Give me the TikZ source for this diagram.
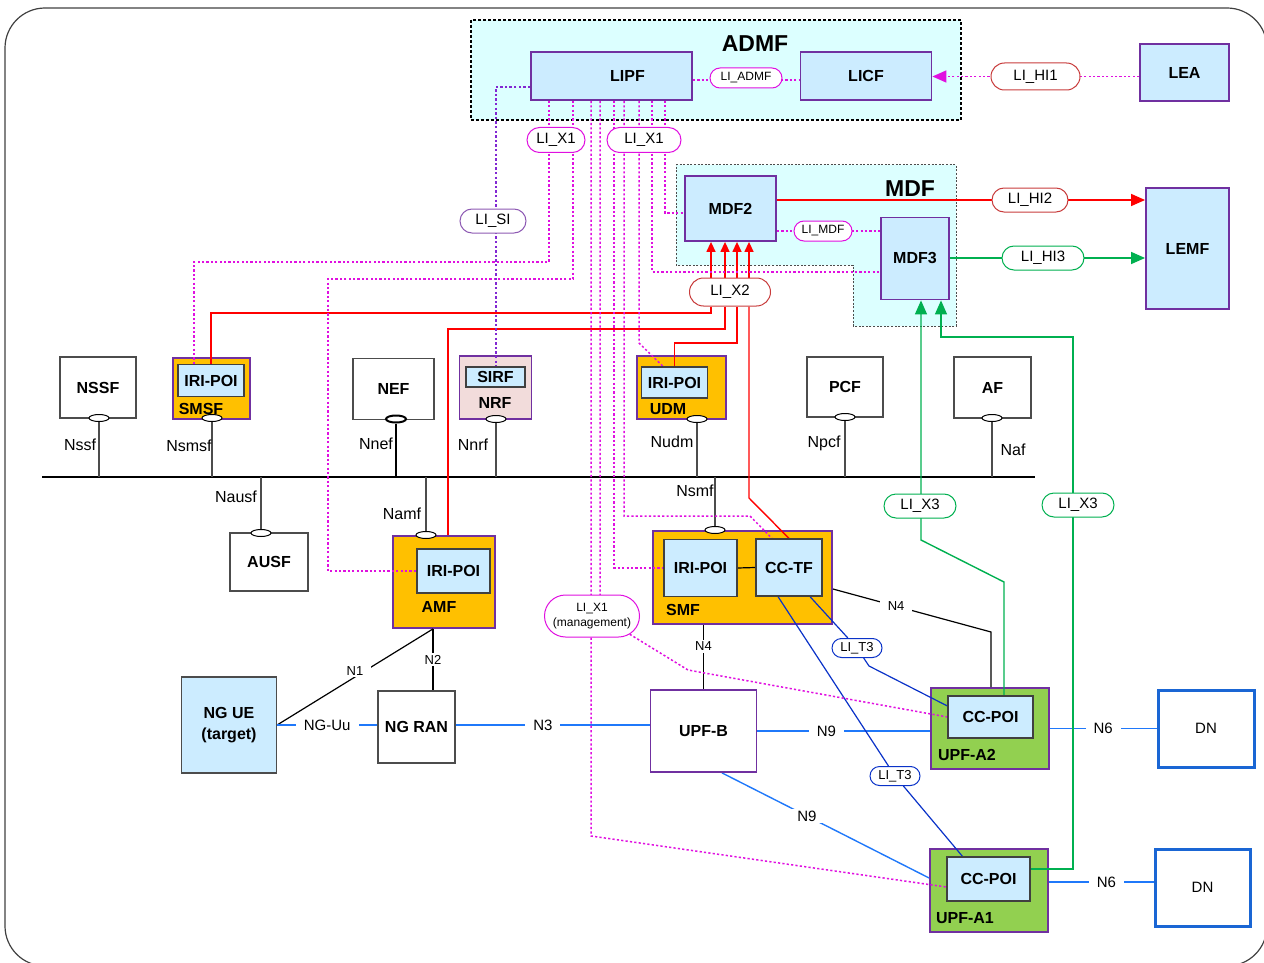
\documentclass[tikz,border=0pt]{standalone}
\usepackage{fontspec}
\setmainfont{Liberation Sans}
\usetikzlibrary{arrows.meta,shapes.geometric,shapes.misc}
\definecolor{licyan}{RGB}{220,255,255}
\definecolor{liblue}{RGB}{204,236,255}
\definecolor{lipurple}{RGB}{112,48,160}
\definecolor{lisipurple}{RGB}{130,40,210}
\definecolor{liorange}{RGB}{255,192,0}
\definecolor{ligreen}{RGB}{146,208,80}
\definecolor{lipink}{RGB}{242,220,219}
\definecolor{limag}{RGB}{224,16,224}
\definecolor{lired}{RGB}{255,0,0}
\definecolor{liovred}{RGB}{200,60,60}
\definecolor{lixgreen}{RGB}{0,176,80}
\definecolor{nblue}{RGB}{31,120,250}
\definecolor{tblue}{RGB}{10,50,200}
\pgfdeclarelayer{bg}
\pgfdeclarelayer{hosts}
\pgfdeclarelayer{wires}
\pgfsetlayers{bg,hosts,wires,main}
\tikzset{
  wh/.style 2 args={minimum width=#1*0.5pt,minimum height=#2*0.5pt},
  big/.style={inner sep=0pt,font=\bfseries\fontsize{11.5}{13}\selectfont},
  lbl/.style={inner sep=0pt,font=\bfseries\fontsize{8}{10.5}\selectfont},
  tag/.style={inner sep=1pt,font=\fontsize{8}{9.5}\selectfont},
  tinyfont/.style={font=\fontsize{6}{7.5}\selectfont},
  smallfont/.style={font=\fontsize{6.5}{8}\selectfont},
  nf/.style={draw=black!70,fill=white,line width=0.6pt,inner sep=0pt,align=center,font=\bfseries\fontsize{8}{10.5}\selectfont},
  lif/.style={draw=lipurple,fill=liblue,line width=0.9pt,inner sep=0pt,font=\bfseries\fontsize{8}{10.5}\selectfont},
  host/.style={draw=lipurple,fill=#1,line width=0.9pt,inner sep=0pt},
  poi/.style={draw=black!75,fill=liblue,line width=0.6pt,inner sep=0pt,font=\bfseries\fontsize{8}{10.5}\selectfont},
  dnbox/.style={draw=nblue!85!black,fill=white,line width=1.5pt,inner sep=0pt,font=\fontsize{7.5}{9}\selectfont},
  iface/.style={rounded rectangle,draw=#1,fill=white,line width=0.5pt,inner sep=0pt,align=center,font=\fontsize{7.5}{9}\selectfont},
  cut/.style={fill=white,text=black,inner xsep=4pt,inner ysep=1pt,font=\fontsize{7.5}{9}\selectfont},
  port/.style={ellipse,draw=black,fill=white,line width=0.5pt,minimum width=10pt,minimum height=3.5pt,inner sep=0pt},
  bus/.style={black,line width=1pt},
  svc/.style={black!70,line width=0.6pt},
  ref/.style={black,line width=0.6pt},
  upl/.style={nblue,line width=0.7pt},
  tthree/.style={tblue,line width=0.6pt},
  xone/.style={limag,line width=0.75pt,dash pattern=on 1.1pt off 1.1pt},
  sidot/.style={lisipurple,line width=1pt,dash pattern=on 1.2pt off 1.1pt},
  xtwo/.style={lired,line width=0.7pt},
  xthree/.style={lixgreen,line width=0.7pt},
  redtip/.style={-{Triangle[length=5pt,width=4.5pt]}},
  hitip/.style={-{Triangle[length=7pt,width=6pt]}},
}
\begin{document}
\begin{tikzpicture}[x=0.5pt,y=-0.5pt]
\useasboundingbox (0,0) rectangle (1264,963);
\draw[black!75,line width=0.6pt,rounded corners=20pt] (5,8) rectangle (1267,966);
\begin{pgfonlayer}{bg}
\draw[draw=black,fill=licyan,line width=0.9pt,dash pattern=on 1.5pt off 1pt] (471,20) rectangle (961,120);
\draw[draw=black!70,fill=licyan,line width=0.5pt,dash pattern=on 1pt off 0.8pt] (676,165) -- (956,165) -- (956,326) -- (853,326) -- (853,265) -- (676,265) -- cycle;
\end{pgfonlayer}
\begin{pgfonlayer}{hosts}
\node[host=liorange, wh={77}{61}] (smsf) at (211.5,388.5) {};
\node[host=lipink, wh={72}{63}] (nrf) at (495.5,387.5) {};
\node[host=liorange, wh={89}{63}] (udm) at (681.5,387.5) {};
\node[host=liorange, wh={102}{92}] (amf) at (444,582) {};
\node[host=liorange, wh={179}{93}] (smf) at (742.5,577.5) {};
\node[host=ligreen, wh={118}{81}] (upfa2) at (990,728.5) {};
\node[host=ligreen, wh={118}{83}] (upfa1) at (989,890.5) {};
\end{pgfonlayer}
% ADMF, MDF and handover side
\node[big] (admft) at (755,44) {ADMF};
\node[lif, wh={161}{48}] (lipf) at (611.5,76) {};
\node[lbl] (lipft) at (627.5,76) {LIPF};
\node[lif, wh={131}{48}] (licf) at (866,76) {LICF};
\node[iface=limag, wh={72}{20}, tinyfont] (liadmf) at (746,78) {LI\_ADMF};
\node[lif, wh={89}{57}] (lea) at (1184.5,72.5) {LEA};
\node[iface=liovred, wh={89}{27}] (lihi1) at (1035.5,76.5) {LI\_HI1};
\node[big] (mdft) at (910,189) {MDF};
\node[lif, wh={91}{65}] (mdf2) at (730.5,208.5) {MDF2};
\node[lif, wh={68}{82}] (mdf3) at (915,258.5) {MDF3};
\node[iface=limag, wh={58}{20}, tinyfont] (limdf) at (823,231) {LI\_MDF};
\node[lif, wh={83}{121}] (lemf) at (1187.5,248.5) {LEMF};
\node[iface=liovred, wh={76}{24}] (lihi2) at (1030,200) {LI\_HI2};
\node[iface=lixgreen, wh={82}{24}] (lihi3) at (1043,258) {LI\_HI3};
\node[iface=limag, wh={58}{25}] (lix1a) at (556,140) {LI\_X1};
\node[iface=limag, wh={74}{25}] (lix1b) at (644,140) {LI\_X1};
\node[iface=lipurple!80, wh={66}{24}] (lisi) at (493,221) {LI\_SI};
\node[iface=liovred, wh={81}{28}] (lix2) at (730,292) {LI\_X2};
\node[iface=lixgreen, wh={72}{24}] (lix3a) at (920,506) {LI\_X3};
\node[iface=lixgreen, wh={72}{24}] (lix3b) at (1078,505) {LI\_X3};
\node[iface=tblue, wh={50}{19}, smallfont] (lit3a) at (857,648) {LI\_T3};
\node[iface=tblue, wh={50}{19}, smallfont] (lit3b) at (895,776) {LI\_T3};
\node[iface=limag, wh={95}{42}, tinyfont] (limgmt) at (592,616) {LI\_X1\\(management)};
% network functions
\node[nf, wh={76}{61}] (nssf) at (98,387.5) {NSSF};
\node[poi, wh={66}{32}] (smsfpoi) at (211,380.5) {IRI-POI};
\node[lbl] (smsft) at (201,408.5) {SMSF};
\node[nf, wh={81}{61}] (nef) at (393.5,389) {NEF};
\node[poi, wh={59}{20}] (sirf) at (495.5,377) {SIRF};
\node[lbl] (nrft) at (495,403) {NRF};
\node[poi, wh={66}{31}] (udmpoi) at (674.5,382.5) {IRI-POI};
\node[lbl] (udmt) at (668,409) {UDM};
\node[nf, wh={76}{60}] (pcf) at (845,387) {PCF};
\node[nf, wh={77}{61}] (af) at (992.5,387.5) {AF};
\node[nf, wh={78}{58}] (ausf) at (269,562) {AUSF};
\node[poi, wh={73}{44}] (amfpoi) at (453.5,571) {IRI-POI};
\node[lbl] (amft) at (439,606.5) {AMF};
\node[poi, wh={73}{57}] (smfpoi) at (700.5,568) {IRI-POI};
\node[poi, wh={66}{57}] (cctf) at (789,567.5) {CC-TF};
\node[lbl] (smft) at (683,610) {SMF};
\node[nf, fill=liblue, wh={95}{96}] (ue) at (229,725) {NG UE\\(target)};
\node[nf, wh={77}{72}] (ran) at (416.5,727) {NG RAN};
\node[nf, draw=lipurple, line width=0.9pt, wh={106}{82}] (upfb) at (703.5,731) {UPF-B};
\node[poi, wh={85}{42}] (ccpoi2) at (990.5,717) {CC-POI};
\node[lbl] (upfa2t) at (967,755) {UPF-A2};
\node[poi, wh={83}{44}] (ccpoi1) at (988.5,879) {CC-POI};
\node[lbl] (upfa1t) at (965,918) {UPF-A1};
\node[dnbox, wh={96}{77}] (dn1) at (1206,728.5) {DN};
\node[dnbox, wh={95}{77}] (dn2) at (1202.5,887.5) {DN};
% service interfaces
\node[port] (nssfp) at (99,418) {};
\node[port] (smsfp) at (212,418) {};
\node[port, line width=1pt] (nefp) at (396,419) {};
\node[port] (nrfp) at (496,419) {};
\node[port] (udmp) at (697,419) {};
\node[port] (pcfp) at (845,417) {};
\node[port] (afp) at (992,418) {};
\node[port] (ausfp) at (261,533) {};
\node[port] (amfp) at (426,535) {};
\node[port] (smfp) at (715,530) {};
\node[tag] (nssft) at (80,445) {Nssf};
\node[tag] (smsfl) at (189,446) {Nsmsf};
\node[tag] (neft) at (376,444) {Nnef};
\node[tag] (nrfl) at (473,445) {Nnrf};
\node[tag] (udml) at (672,442) {Nudm};
\node[tag] (pcft) at (824,443) {Npcf};
\node[tag] (aft) at (1013,450) {Naf};
\node[tag] (ausft) at (236,497) {Nausf};
\node[tag] (amfl) at (402,514) {Namf};
\node[tag] (smfl) at (695,491) {Nsmf};
\coordinate (busw) at (42,477);
\coordinate (buse) at (1035,477);
\begin{pgfonlayer}{wires}
\draw[bus] (busw) -- (buse);
\foreach \p in {nssfp,smsfp,nrfp,udmp,pcfp,afp}
  \draw[svc] (\p.south) -- (\p.south |- busw);
\draw[bus] (nefp.south) -- (nefp.south |- busw);
\foreach \p in {ausfp,amfp,smfp}
  \draw[svc] (\p.north) -- (\p.north |- busw);
\draw[ref] (smfpoi.east) -- (cctf.west);
% reference points
\draw[ref] ([xshift=-5.5pt]amf.south) -- (ue.east) node[cut, smallfont, pos=0.5, yshift=3pt] (n1) {N1};
\draw[ref] ([xshift=-5.5pt]amf.south) -- ([xshift=-5.5pt]amf.south |- ran.north) node[cut, smallfont, midway] (n2) {N2};
\draw[upl] (ue.east) -- (ue.east -| ran.west) node[cut, midway] (nguu) {NG-Uu};
\draw[upl] (ue.east -| ran.east) -- (ue.east -| upfb.west) node[cut, pos=0.45] (n3) {N3};
\draw[ref] (upfb.north |- smf.south) -- (upfb.north) node[cut, smallfont, pos=0.33] (n4a) {N4};
\draw[ref] ([yshift=-5.75pt]smf.east) -- node[cut, smallfont, pos=0.4] (n4b) {N4} (991,632) -- (upfa2.north -| 991,0);
\draw[upl] (upfb.east) -- (upfb.east -| upfa2.west) node[cut, pos=0.4] (n9a) {N9};
\draw[upl] ([xshift=9.25pt]upfb.south) -- ([yshift=6.25pt]upfa1.west) node[cut, pos=0.41] (n9b) {N9};
\draw[upl] (upfa2.east) -- (upfa2.east -| dn1.west) node[cut, pos=0.5] (n6a) {N6};
\draw[upl] ([yshift=4.25pt]upfa1.east) -- ([yshift=4.25pt]upfa1.east -| dn2.west) node[cut, pos=0.55] (n6b) {N6};
% LI interfaces
\draw[tthree] ([xshift=10.5pt]cctf.south) -- (lit3a) -- (869,666) -- ([yshift=5.5pt]ccpoi2.west);
\draw[tthree] ([xshift=-5.5pt]cctf.south) -- (lit3b) -- ([xshift=-13pt]ccpoi1.north);
\foreach \xx in {711,725,737,749}
  \draw[xtwo, redtip] (lix2.north -| \xx,0) -- (mdf2.south -| \xx,0);
\draw[xtwo] (lix2.south -| 711,0) -- (711,313) -| (smsfpoi.north);
\draw[xtwo] (lix2.south -| 725,0) -- (725,329) -| ([xshift=2pt]amf.north);
\draw[xtwo] (lix2.south -| 737,0) -- (737,343) -| (udmpoi.north);
\draw[xtwo] (lix2.south -| 749,0) -- (749,498) -- (cctf.north);
\draw[xthree, hitip] ([xshift=6.75pt]ccpoi2.north) -- (1004,582) -- (921,540) -- ([xshift=3pt]mdf3.south);
\draw[xthree, hitip] ([yshift=5pt]ccpoi1.east) -| (1073,337) -| ([xshift=13pt]mdf3.south);
\draw[xone] (lipf.south -| 549,0) -- (549,262) -| ([xshift=-8.5pt]smsfpoi.north);
\draw[xone] (lipf.south -| 573,0) |- (328,279) |- (amfpoi.west);
\draw[xone] (lipf.south -| 591,0) -- (591,836) -- ([yshift=-4pt]ccpoi1.west);
\draw[xone] (lipf.south -| 600,0) -- (600,616) -- (688,670) -- (ccpoi2.west);
\draw[xone] (lipf.south -| 614,0) |- (smfpoi.west);
\draw[xone] (lipf.south -| 624,0) |- (750,516) -- ([xshift=-8.5pt]cctf.north);
\draw[xone] (lipf.south -| 639,0) -- (639,343) -- ([xshift=-5.75pt]udmpoi.north);
\draw[xone] (lipf.south -| 652,0) |- ([yshift=-6.75pt]mdf3.west);
\draw[xone] (lipf.south -| 665,0) |- ([yshift=-2.25pt]mdf2.west);
\draw[xone] ([yshift=-2pt]lipf.east) -- ([yshift=-2pt]licf.west);
\draw[xone] (mdf2.east |- limdf) -- (mdf3.west |- limdf);
\draw[xone, hitip] (lea.west |- lihi1) -- (licf.east |- lihi1);
\draw[sidot] ([yshift=-5.5pt]lipf.west) -| (sirf.north);
\draw[xtwo, hitip] (mdf2.east |- lihi2) -- (lemf.west |- lihi2);
\draw[xthree, hitip] (mdf3.east |- lihi3) -- (lemf.west |- lihi3);
\end{pgfonlayer}
\end{tikzpicture}
\end{document}
